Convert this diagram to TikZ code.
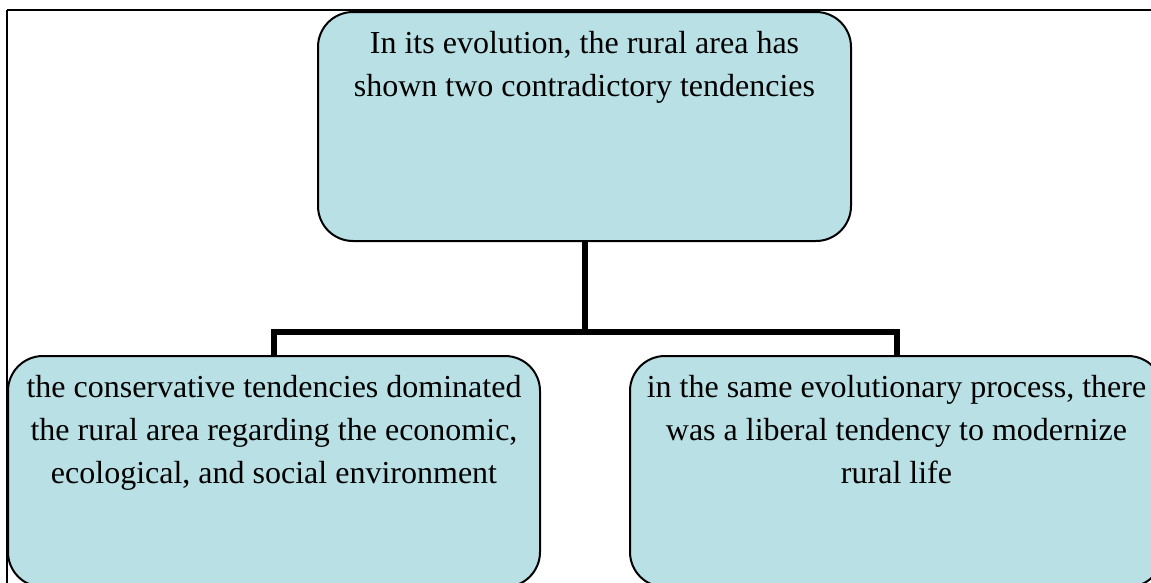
\documentclass[tikz,border=0pt]{standalone}
\usepackage{fontspec}
\setmainfont{Liberation Serif}
\definecolor{boxfill}{RGB}{185,224,228}
\tikzset{
  tbox/.style={draw=black, line width=2pt, fill=boxfill, rounded corners=35pt,
    inner sep=0pt, outer sep=0pt, font=\fontsize{32pt}{43pt}\selectfont},
  conn/.style={draw=black, line width=6pt},
  frame/.style={draw=black, line width=2pt}
}
\newcommand{\boxtext}[3]{\parbox[c][#2][t]{#1}{\centering\rule{0pt}{41pt}#3\par}}
\begin{document}
\begin{tikzpicture}[x=1pt,y=-1pt]
\useasboundingbox (0,0) rectangle (1151,582);
\draw[frame] (7,9.5) -- (1165,9.5);
\draw[frame] (7,9.5) -- (7,600);
\node[tbox] (top) at (584.5,126.5) {\boxtext{533pt}{229pt}{In its evolution, the rural area has\\shown two contradictory tendencies}};
\node[tbox] (left) at (274,471.5) {\boxtext{532pt}{231pt}{the conservative tendencies dominated\\the rural area regarding the economic,\\ecological, and social environment}};
\node[tbox] (right) at (896.5,471.5) {\boxtext{533pt}{231pt}{in the same evolutionary process, there\\was a liberal tendency to modernize\\rural life}};
\coordinate (j) at (584.5,332);
\draw[conn] (top.south) -- (j);
\draw[conn] (left.north) |- (j);
\draw[conn] (right.north) |- (j);
\end{tikzpicture}
\end{document}
